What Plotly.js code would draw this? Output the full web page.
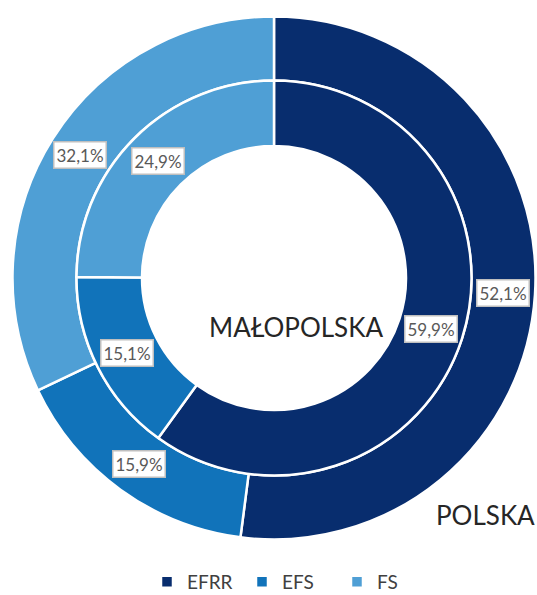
<!DOCTYPE html>
<html>
<head>
<meta charset="utf-8">
<script src="https://cdn.plot.ly/plotly-3.0.1.min.js"></script>
<style>html,body{margin:0;padding:0;background:#fff;overflow:hidden;}#chart{width:537px;height:595px;}</style>
</head>
<body>
<div id="chart"></div>
<script>
const categories = ['EFRR', 'EFS', 'FS'];
const polska = [52.1, 15.9, 32.1];
const malopolska = [59.9, 15.1, 24.9];
const colors = ['#082D6E', '#1173BA', '#4F9FD5'];
const outerName = 'POLSKA';
const innerName = 'MAŁOPOLSKA';

const W = 537, H = 595;
const cx = 274, cy = 278;
const Rout = 261.5, Rin = 197.5, Rhole = 132;

function domainFor(r) {
  return {
    x: [(cx - r) / W, (cx + r) / W],
    y: [1 - (cy + r) / H, 1 - (cy - r) / H]
  };
}

const fmt = v => v.toFixed(1).replace('.', ',') + '%';

function labelAnnotations(values, rMid) {
  const total = values.reduce((a, b) => a + b, 0);
  let cum = 0;
  return values.map(v => {
    const mid = (cum + v / 2) / total * 2 * Math.PI;
    cum += v;
    const px = cx + rMid * Math.sin(mid);
    const py = cy - rMid * Math.cos(mid);
    return {
      xref: 'paper', yref: 'paper',
      x: px / W, y: 1 - py / H,
      xanchor: 'center', yanchor: 'middle',
      text: fmt(v), showarrow: false,
      font: {family: 'Lato, "Open Sans", sans-serif', size: 17, color: '#595959'},
      bgcolor: '#ffffff', bordercolor: '#BFBFBF', borderwidth: 1.5, borderpad: 2
    };
  });
}

const common = {
  type: 'pie', labels: categories, sort: false, direction: 'clockwise', rotation: 0,
  marker: {colors: colors, line: {color: '#ffffff', width: 2.5}},
  textinfo: 'none', hoverinfo: 'label+percent'
};

const data = [
  Object.assign({}, common, {values: polska, name: outerName, hole: Rin / Rout, domain: domainFor(Rout), showlegend: true}),
  Object.assign({}, common, {values: malopolska, name: innerName, hole: Rhole / Rin, domain: domainFor(Rin), showlegend: false})
];

const annotations = [].concat(
  labelAnnotations(polska, (Rin + Rout) / 2),
  labelAnnotations(malopolska, (Rhole + Rin) / 2),
  [
    {xref: 'paper', yref: 'paper', x: 295.5 / W, y: 1 - 327 / H, xanchor: 'center', yanchor: 'middle',
     text: innerName, showarrow: false, font: {family: 'Lato, sans-serif', size: 26, color: '#262626'}},
    {xref: 'paper', yref: 'paper', x: 485.5 / W, y: 1 - 515 / H, xanchor: 'center', yanchor: 'middle',
     text: outerName, showarrow: false, font: {family: 'Lato, sans-serif', size: 26, color: '#262626'}}
  ]
);

const layout = {
  width: W, height: H,
  margin: {l: 0, r: 0, t: 0, b: 0, autoexpand: false},
  paper_bgcolor: '#ffffff',
  showlegend: true,
  legend: {
    orientation: 'h', x: 0.5 + 21 / W, xanchor: 'center', y: -6 / H, yanchor: 'bottom',
    font: {family: 'Lato, sans-serif', size: 19, color: '#404040'},
    itemwidth: 30, traceorder: 'normal',
    entrywidthmode: 'pixels', entrywidth: 50
  },
  annotations: annotations
};

Plotly.newPlot('chart', data, layout, {displayModeBar: false, staticPlot: true});
</script>
</body>
</html>
